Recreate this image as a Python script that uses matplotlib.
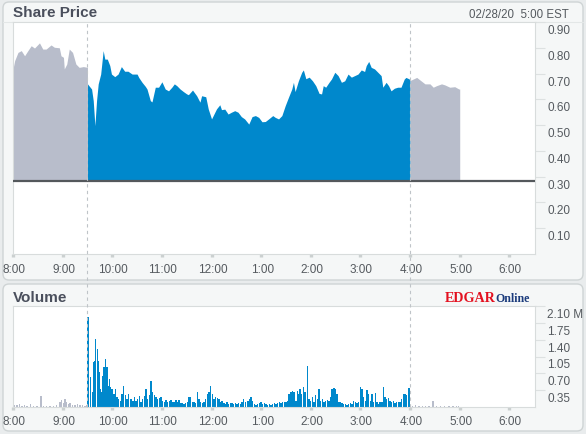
import matplotlib
matplotlib.use('Agg')
import matplotlib.pyplot as plt
from matplotlib.patches import FancyBboxPatch
from matplotlib.lines import Line2D
import matplotlib.transforms as mtransforms

plt.rcParams['font.family'] = ['Liberation Sans', 'DejaVu Sans']

# ---------------- data (minutes after 8:00 AM) ----------------
pre_t = [0, 2, 6, 10, 14, 18, 22, 26, 32, 36, 40, 46, 50, 56, 58, 61, 62, 65, 68, 72, 76, 80, 85, 90]
pre_v = [0.718, 0.750, 0.782, 0.789, 0.769, 0.789, 0.808, 0.799, 0.819, 0.795, 0.795, 0.811,
         0.802, 0.800, 0.769, 0.763, 0.718, 0.737, 0.795, 0.782, 0.737, 0.724, 0.727, 0.724]

reg_t = [90, 95, 97, 99, 101, 103, 106, 109, 111, 114, 117, 119, 123, 127, 131, 135, 139, 144,
         150, 152, 156, 160, 162, 166, 168, 172, 176, 180, 184, 188, 192, 195, 198, 202, 206,
         210, 212, 217, 222, 226, 228, 233, 236, 240, 242, 246, 250, 252, 256, 260, 264, 268,
         272, 276, 280, 285, 289, 293, 297, 301, 305, 309, 314, 317, 321, 325, 329, 333, 337,
         339, 341, 345, 349, 351, 354, 358, 362, 366, 370, 373, 375, 378, 382, 385, 389, 393,
         397, 401, 405, 409, 413, 417, 421, 425, 427, 430, 433, 437, 441, 445, 447, 451, 454,
         457, 461, 465, 469, 473, 475, 479, 480]
reg_v = [0.660, 0.640, 0.595, 0.498, 0.595, 0.660, 0.698, 0.789, 0.756, 0.756, 0.731, 0.698,
         0.688, 0.698, 0.727, 0.709, 0.709, 0.698, 0.698, 0.685, 0.666, 0.650, 0.640, 0.595,
         0.590, 0.647, 0.647, 0.668, 0.640, 0.633, 0.647, 0.660, 0.653, 0.640, 0.630, 0.621,
         0.618, 0.636, 0.614, 0.589, 0.614, 0.610, 0.563, 0.524, 0.537, 0.563, 0.579, 0.560,
         0.562, 0.543, 0.550, 0.556, 0.550, 0.533, 0.524, 0.504, 0.533, 0.537, 0.530, 0.513,
         0.514, 0.524, 0.537, 0.530, 0.524, 0.537, 0.575, 0.608, 0.640, 0.666, 0.630, 0.672,
         0.705, 0.714, 0.680, 0.686, 0.672, 0.653, 0.623, 0.621, 0.653, 0.647, 0.666, 0.679,
         0.705, 0.692, 0.666, 0.672, 0.698, 0.686, 0.692, 0.698, 0.714, 0.708, 0.731, 0.747,
         0.724, 0.718, 0.705, 0.692, 0.647, 0.666, 0.653, 0.633, 0.643, 0.647, 0.647, 0.679,
         0.685, 0.679, 0.672]

post_t = [480, 488, 492, 498, 504, 508, 512, 518, 522, 528, 534, 539, 540]
post_v = [0.673, 0.685, 0.675, 0.660, 0.660, 0.647, 0.653, 0.660, 0.656, 0.647, 0.649, 0.640, 0.640]

price_base = 0.283

# volume, millions of shares (bar start minute)
pre_vol_t = [1, 4, 7, 10, 13, 16, 20, 24, 28, 33, 36, 40, 44, 48, 52, 56, 58, 60, 62, 64, 66,
             68, 71, 74, 77, 80, 83, 86, 88]
pre_vol_v = [0.05, 0.04, 0.06, 0.03, 0.05, 0.02, 0.06, 0.03, 0.02, 0.22, 0.03, 0.02, 0.03, 0.02,
             0.04, 0.10, 0.14, 0.08, 0.16, 0.10, 0.06, 0.08, 0.05, 0.04, 0.06, 0.04, 0.05, 0.03, 0.04]

reg_vol_t = [90, 93, 95, 97, 98, 99, 101, 102, 103, 105, 106, 108, 109, 111, 113, 114, 116, 117,
             119, 121, 123, 125, 127, 129, 131, 133, 135, 137, 139,
             142, 144, 146, 148, 150, 152, 154, 156, 158, 160, 162, 164, 166, 168, 170, 172, 174,
             176, 178, 180, 182, 184, 186, 188, 190, 192, 194, 196, 198, 200, 202, 204, 206, 208,
             210, 212, 214, 216, 218, 220, 222, 224, 226, 228, 230, 232, 234, 236, 238, 240, 242,
             244, 246, 248, 250, 252, 254, 256, 258, 260, 262, 264, 266, 268, 270, 272, 274, 276,
             278, 280,
             283, 285, 287, 289, 291, 293, 295, 297, 299, 301, 303, 305, 307, 309, 311, 313, 315,
             317, 319, 321, 323, 325, 327, 329, 331, 333, 335, 337, 339, 341, 343, 345,
             346, 348, 350, 352, 353,
             355, 357, 359, 361, 363, 365, 367, 369, 371, 373, 375, 377, 379, 381, 383, 385, 387,
             389, 391, 393, 395, 397, 399, 401, 403, 405, 407, 409, 411, 413, 415, 417, 419, 421,
             423, 425, 427, 429, 431, 433, 435, 437, 439, 441, 443, 445, 447, 449, 451, 453, 455,
             457, 459, 461, 463, 465, 467, 469, 471, 473, 475, 477, 478]
reg_vol_v = [1.87, 0.62, 0.31, 0.93, 0.96, 1.42, 1.21, 0.96, 0.72, 0.38, 0.31, 0.65, 0.83, 1.00,
             0.83, 0.44, 0.58, 0.41, 0.38, 0.27, 0.38, 0.20, 0.17, 0.13, 0.27, 0.44, 0.24, 0.17,
             0.27, 0.17, 0.13, 0.20, 0.13, 0.17, 0.22, 0.11, 0.17, 0.22, 0.38, 0.17, 0.24, 0.55,
             0.31, 0.24, 0.20, 0.17, 0.18, 0.20, 0.13, 0.10, 0.15, 0.10, 0.13, 0.15, 0.10, 0.11,
             0.15, 0.10, 0.15, 0.08, 0.08, 0.06, 0.08, 0.10, 0.20, 0.20, 0.10, 0.11, 0.08, 0.31,
             0.17, 0.10, 0.08, 0.10, 0.17, 0.27, 0.31, 0.43, 0.27, 0.17, 0.20, 0.18, 0.17, 0.11,
             0.13, 0.08, 0.06, 0.10, 0.06, 0.08, 0.08, 0.06, 0.08, 0.06, 0.08, 0.06, 0.10, 0.17,
             0.11, 0.13, 0.17, 0.20, 0.13, 0.06, 0.04, 0.06, 0.08, 0.10, 0.06, 0.08, 0.06, 0.05,
             0.06, 0.04, 0.06, 0.08, 0.06, 0.08, 0.10, 0.08, 0.11, 0.10, 0.10, 0.13, 0.27, 0.31,
             0.34, 0.32, 0.13, 0.34, 0.27, 0.38, 0.27, 0.41, 0.31, 0.20, 0.86, 0.17, 0.13, 0.20,
             0.10, 0.24, 0.17, 0.38, 0.13, 0.17, 0.11, 0.13, 0.15, 0.13, 0.20, 0.38, 0.39, 0.38,
             0.27, 0.10, 0.10, 0.08, 0.06, 0.06, 0.04, 0.06, 0.08, 0.06, 0.13, 0.10, 0.08, 0.10,
             0.41, 0.38, 0.20, 0.13, 0.36, 0.27, 0.13, 0.27, 0.10, 0.29, 0.10, 0.06, 0.10, 0.10,
             0.41, 0.20, 0.17, 0.18, 0.13, 0.10, 0.13, 0.08, 0.11, 0.10, 0.10, 0.17, 0.27, 0.27,
             0.24, 0.20, 0.39]

post_vol_t = [482, 486, 490, 494, 498, 502, 507, 511, 516, 521, 526, 531, 535, 538]
post_vol_v = [0.03, 0.04, 0.02, 0.03, 0.02, 0.02, 0.12, 0.02, 0.02, 0.02, 0.02, 0.02, 0.02, 0.02]

x_tick_pos = [0, 60, 120, 180, 240, 300, 360, 420, 480, 540, 600]
x_tick_lab = ['8:00', '9:00', '10:00', '11:00', '12:00', '1:00', '2:00', '3:00', '4:00', '5:00', '6:00']
price_ticks = [0.90, 0.80, 0.70, 0.60, 0.50, 0.40, 0.30, 0.20, 0.10]
price_tick_lab = ['0.90', '0.80', '0.70', '0.60', '0.50', '0.40', '0.30', '0.20', '0.10']
vol_ticks = [2.10, 1.75, 1.40, 1.05, 0.70, 0.35]
vol_tick_lab = ['2.10 M', '1.75', '1.40', '1.05', '0.70', '0.35']
event_times = [90, 480]   # 9:30 open, 4:00 close

# ---------------- styling ----------------
BLUE = '#0088cc'
GRAY = '#b8bdcb'
TXT = '#555a5f'
TITLE = '#4a4f5c'
SPINE = '#d8dcdc'

W, H = 586, 435
fig = plt.figure(figsize=(W / 100, H / 100), dpi=100)
fig.patch.set_facecolor('#e9eced')

def fx(px):
    return px / W

def fy(py):
    return 1 - py / H

ident = mtransforms.IdentityTransform()
for (x0, y0, x1, y1) in [(3, 3, 583, 281), (3, 285, 583, 432)]:
    p = FancyBboxPatch((x0, H - y1), x1 - x0, y1 - y0,
                       boxstyle='round,pad=0,rounding_size=6', transform=ident,
                       facecolor='#f5f7f7', edgecolor='#cfd4d5', lw=1.0, zorder=-10)
    fig.add_artist(p)

ax1 = fig.add_axes([fx(13), fy(255), fx(535) - fx(13), fy(23) - fy(255)])
ax2 = fig.add_axes([fx(13), fy(408), fx(535) - fx(13), fy(307) - fy(408)])

# price panel
ax1.fill_between(pre_t, price_base, pre_v, color=GRAY, lw=0)
ax1.fill_between(reg_t, price_base, reg_v, color=BLUE, lw=0)
ax1.fill_between(post_t, price_base, post_v, color=GRAY, lw=0)
ax1.axhline(price_base, color='#54585c', lw=1.6, zorder=3)
ax1.set_ylim(0, 0.9)

# volume panel
ax2.bar(pre_vol_t, pre_vol_v, width=1.7, align='edge', color=GRAY, lw=0)
ax2.bar(reg_vol_t, reg_vol_v, width=1.7, align='edge', color=BLUE, lw=0)
ax2.bar(post_vol_t, post_vol_v, width=1.7, align='edge', color=GRAY, lw=0)
ax2.set_ylim(0, 2.1)

for ax, ticks, labs, xlab_off in [(ax1, price_ticks, price_tick_lab, 15),
                                   (ax2, vol_ticks, vol_tick_lab, 14)]:
    ax.set_facecolor('white')
    ax.set_xlim(0, 631)
    for s in ax.spines.values():
        s.set_color(SPINE)
        s.set_linewidth(0.8)
    ax.set_xticks(x_tick_pos)
    ax.tick_params(axis='x', direction='out', length=2.4, width=2.4, color='#cbd0d0',
                   labelbottom=False)
    ax.yaxis.tick_right()
    ax.set_yticks(ticks)
    ax.tick_params(axis='y', direction='out', length=7.5, width=0.8, color='#dde1e1',
                   labelright=False, labelleft=False)
    ytr = mtransforms.offset_copy(mtransforms.blended_transform_factory(ax.transAxes, ax.transData),
                                  fig=fig, x=12, y=-8, units='dots')
    for v, lab in zip(ticks, labs):
        ax.text(1.0, v, lab, transform=ytr, ha='left', va='center', fontsize=8.5,
                color=TXT, clip_on=False)
    xtr = mtransforms.offset_copy(mtransforms.blended_transform_factory(ax.transData, ax.transAxes),
                                  fig=fig, x=1, y=-xlab_off, units='dots')
    for t, lab in zip(x_tick_pos, x_tick_lab):
        ax.text(t, 0, lab, transform=xtr, ha='center', va='center', fontsize=8.5,
                color=TXT, clip_on=False)

# faint header rule across the top panel
fig.add_artist(Line2D([fx(3), fx(583)], [fy(22.5), fy(22.5)], transform=fig.transFigure,
                      color='#e3e7e7', lw=0.8, zorder=-5))

# dashed session markers spanning both panels
vtr = mtransforms.blended_transform_factory(ax1.transData, fig.transFigure)
for et in event_times:
    fig.add_artist(Line2D([et, et], [fy(408), fy(23)], transform=vtr, color='#bfc4c8',
                          lw=0.8, ls=(0, (3, 3)), zorder=5))

# header texts
fig.text(fx(13), fy(13), 'Share Price', ha='left', va='center', fontsize=11,
         fontweight='bold', color=TITLE)
fig.text(fx(13), fy(298), 'Volume', ha='left', va='center', fontsize=11,
         fontweight='bold', color=TITLE)
fig.text(fx(569), fy(15), '02/28/20  5:00 EST', ha='right', va='center', fontsize=8.3,
         color=TXT)
fig.text(fx(445), fy(302), 'EDGAR', ha='left', va='baseline', fontsize=10.2,
         fontweight='bold', color='#e3101f', family='Liberation Serif')
fig.text(fx(495), fy(302), 'Online', ha='left', va='baseline', fontsize=8.6,
         fontweight='bold', color='#1b3b7c', family='Liberation Serif')

fig.savefig('out.png', dpi=100, facecolor=fig.get_facecolor())
